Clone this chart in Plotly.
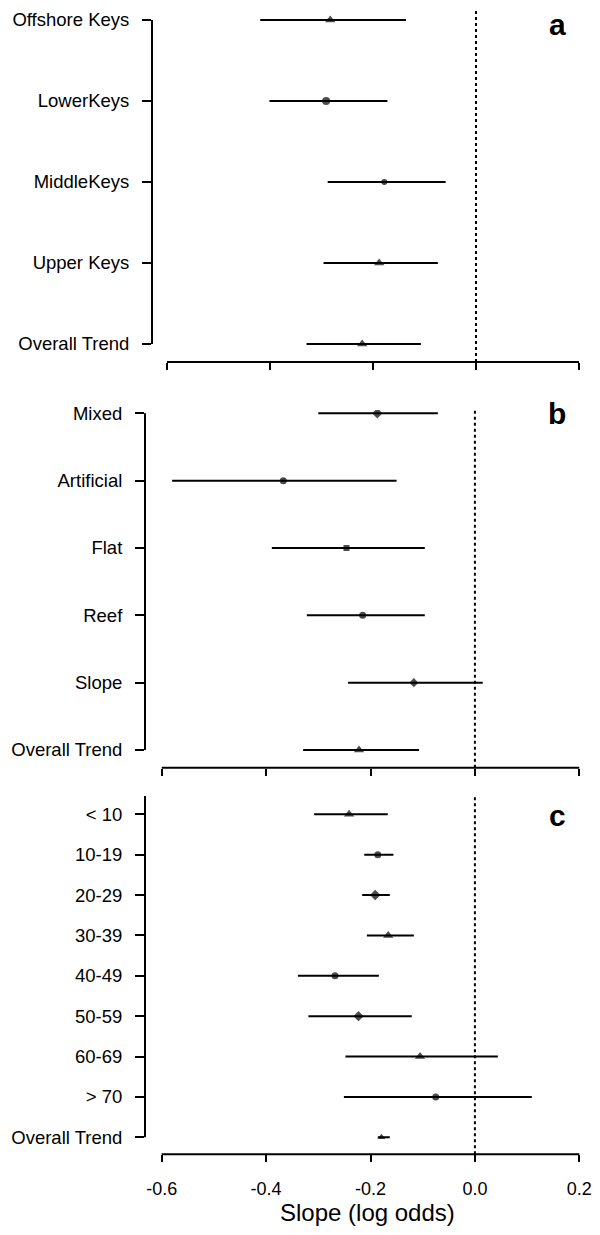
import plotly.graph_objects as go

# page is 600x1235; the HTML body adds an 8px margin, so the figure is
# sized/offset to compensate and all geometry below is in page pixels.
PAGE_W, PAGE_H = 600, 1235
OFF = 8
WF, HF = PAGE_W - OFF, PAGE_H - 2 * OFF

# ---------------- data ----------------
a_labels = ["Offshore Keys", "LowerKeys", "MiddleKeys", "Upper Keys", "Overall Trend"]
a_est = [-0.283, -0.291, -0.178, -0.188, -0.221]
a_lo = [-0.419, -0.401, -0.288, -0.296, -0.329]
a_hi = [-0.136, -0.172, -0.059, -0.074, -0.107]

b_labels = ["Mixed", "Artificial", "Flat", "Reef", "Slope", "Overall Trend"]
b_est = [-0.187, -0.367, -0.246, -0.215, -0.117, -0.222]
b_lo = [-0.300, -0.580, -0.389, -0.322, -0.243, -0.329]
b_hi = [-0.071, -0.150, -0.096, -0.096, 0.015, -0.107]

c_labels = ["< 10", "10-19", "20-29", "30-39", "40-49", "50-59", "60-69", "> 70", "Overall Trend"]
c_est = [-0.241, -0.186, -0.191, -0.166, -0.268, -0.223, -0.105, -0.075, -0.179]
c_lo = [-0.308, -0.212, -0.216, -0.207, -0.339, -0.319, -0.248, -0.251, -0.186]
c_hi = [-0.167, -0.156, -0.163, -0.117, -0.184, -0.121, 0.044, 0.109, -0.163]

x_tickvals = [-0.6, -0.4, -0.2, 0.0, 0.2]
x_ticktext = ["-0.6", "-0.4", "-0.2", "0.0", "0.2"]
x_title = "Slope (log odds)"
panel_letters = ["a", "b", "c"]

# ---------------- styles ----------------
a_sym = ["triangle-up", "circle", "circle", "triangle-up", "triangle-up"]
a_size = [9, 8, 6, 9, 9]
b_sym = ["diamond", "circle", "square", "circle", "diamond", "triangle-up"]
b_size = [8, 7, 6, 7, 7, 9]
c_sym = ["triangle-up", "circle", "diamond", "triangle-up", "circle", "diamond",
         "triangle-up", "circle", "triangle-up"]
c_size = [9, 7, 8, 9, 7, 8, 9, 7, 7]

FONT = "Liberation Sans, Arial, sans-serif"

# pixel geometry for each panel (page coordinates)
geo = [
    dict(left=152, xlo=167, xhi=579, top=8, bottom=362, ttop=20, tbot=344, ytop=20, letter_base=35),
    dict(left=145, xlo=161.7, xhi=579.3, top=410, bottom=767.7, ttop=413.3, tbot=750, ytop=413.3, letter_base=424),
    dict(left=145, xlo=161.7, xhi=579.3, top=796, bottom=1154.3, ttop=814.3, tbot=1137.3, ytop=796, letter_base=826),
]
panels = [
    (a_labels, a_est, a_lo, a_hi, a_sym, a_size),
    (b_labels, b_est, b_lo, b_hi, b_sym, b_size),
    (c_labels, c_est, c_lo, c_hi, c_sym, c_size),
]


def px(x):
    return (x - OFF) / WF


def py(y):
    return 1 - (y - OFF) / HF


fig = go.Figure()
shapes = []
annotations = []
layout = {}

for k, ((labels, est, lo, hi, sym, size), g) in enumerate(zip(panels, geo)):
    n = len(labels)
    pos = [n - 1 - i for i in range(n)]
    sfx = "" if k == 0 else str(k + 1)
    xa, ya = "x" + sfx, "y" + sfx

    fig.add_trace(go.Scatter(
        x=est, y=pos, mode="markers",
        marker=dict(symbol=sym, size=size, color="black", line=dict(width=0)),
        error_x=dict(type="data", symmetric=False,
                     array=[h - e for h, e in zip(hi, est)],
                     arrayminus=[e - l for e, l in zip(est, lo)],
                     width=0, thickness=2, color="black"),
        xaxis=xa, yaxis=ya, showlegend=False, hoverinfo="skip",
    ))

    unit_y = (g["tbot"] - g["ttop"]) / (n - 1)
    yr = [-(g["bottom"] - g["tbot"]) / unit_y, (n - 1) + (g["ttop"] - g["top"]) / unit_y]
    unit_x = (g["xhi"] - g["xlo"]) / (x_tickvals[-1] - x_tickvals[0])
    xr = [x_tickvals[0] - (g["xlo"] - g["left"]) / unit_x,
          x_tickvals[-1] + (PAGE_W - g["xhi"]) / unit_x]

    layout["xaxis" + sfx] = dict(
        domain=[px(g["left"]), 1.0], range=xr, anchor=ya, automargin=False,
        tickvals=x_tickvals, ticktext=x_ticktext,
        showticklabels=(k == 2), ticks="outside", ticklen=7, tickwidth=2,
        tickcolor="black", showline=False, showgrid=False, zeroline=False,
        tickfont=dict(family=FONT, size=18, color="black"),
        ticklabelstandoff=11,
    )
    layout["yaxis" + sfx] = dict(
        domain=[py(g["bottom"]), py(g["top"])], range=yr, anchor=xa, automargin=False,
        tickvals=pos, ticktext=labels, ticks="outside", ticklen=9, tickwidth=2,
        tickcolor="black", showline=False, showgrid=False, zeroline=False,
        tickfont=dict(family=FONT, size=18.5, color="black"),
        ticklabelstandoff=9,
    )

    # y axis line (from bottom tick to top of axis)
    shapes.append(dict(type="line", xref=xa + " domain", x0=0, x1=0,
                       yref=ya, y0=0, y1=(n - 1) + (g["ttop"] - g["ytop"]) / unit_y,
                       line=dict(color="black", width=2)))
    # x axis line
    shapes.append(dict(type="line", xref=xa, x0=x_tickvals[0], x1=x_tickvals[-1],
                       yref=ya + " domain", y0=0, y1=0,
                       line=dict(color="black", width=2)))
    # dotted zero reference
    shapes.append(dict(type="line", xref=xa, x0=0, x1=0,
                       yref=ya + " domain", y0=0, y1=1, layer="below",
                       line=dict(color="black", width=2, dash="3px,3px")))

    annotations.append(dict(text="<b>%s</b>" % panel_letters[k], xref="paper", yref="paper",
                            x=px(557), y=py(g["letter_base"] - 10.5),
                            xanchor="center", yanchor="middle", showarrow=False,
                            font=dict(family=FONT, size=30, color="black")))

annotations.append(dict(text=x_title, xref="paper", yref="paper",
                        x=px(367), y=py(1212), xanchor="center", yanchor="middle",
                        showarrow=False, font=dict(family=FONT, size=24, color="black")))

fig.update_layout(
    template="none",
    width=WF, height=HF, margin=dict(l=0, r=0, t=0, b=0, pad=0),
    paper_bgcolor="white", plot_bgcolor="white",
    shapes=shapes, annotations=annotations, **layout,
)

fig.write_html("out.html")
